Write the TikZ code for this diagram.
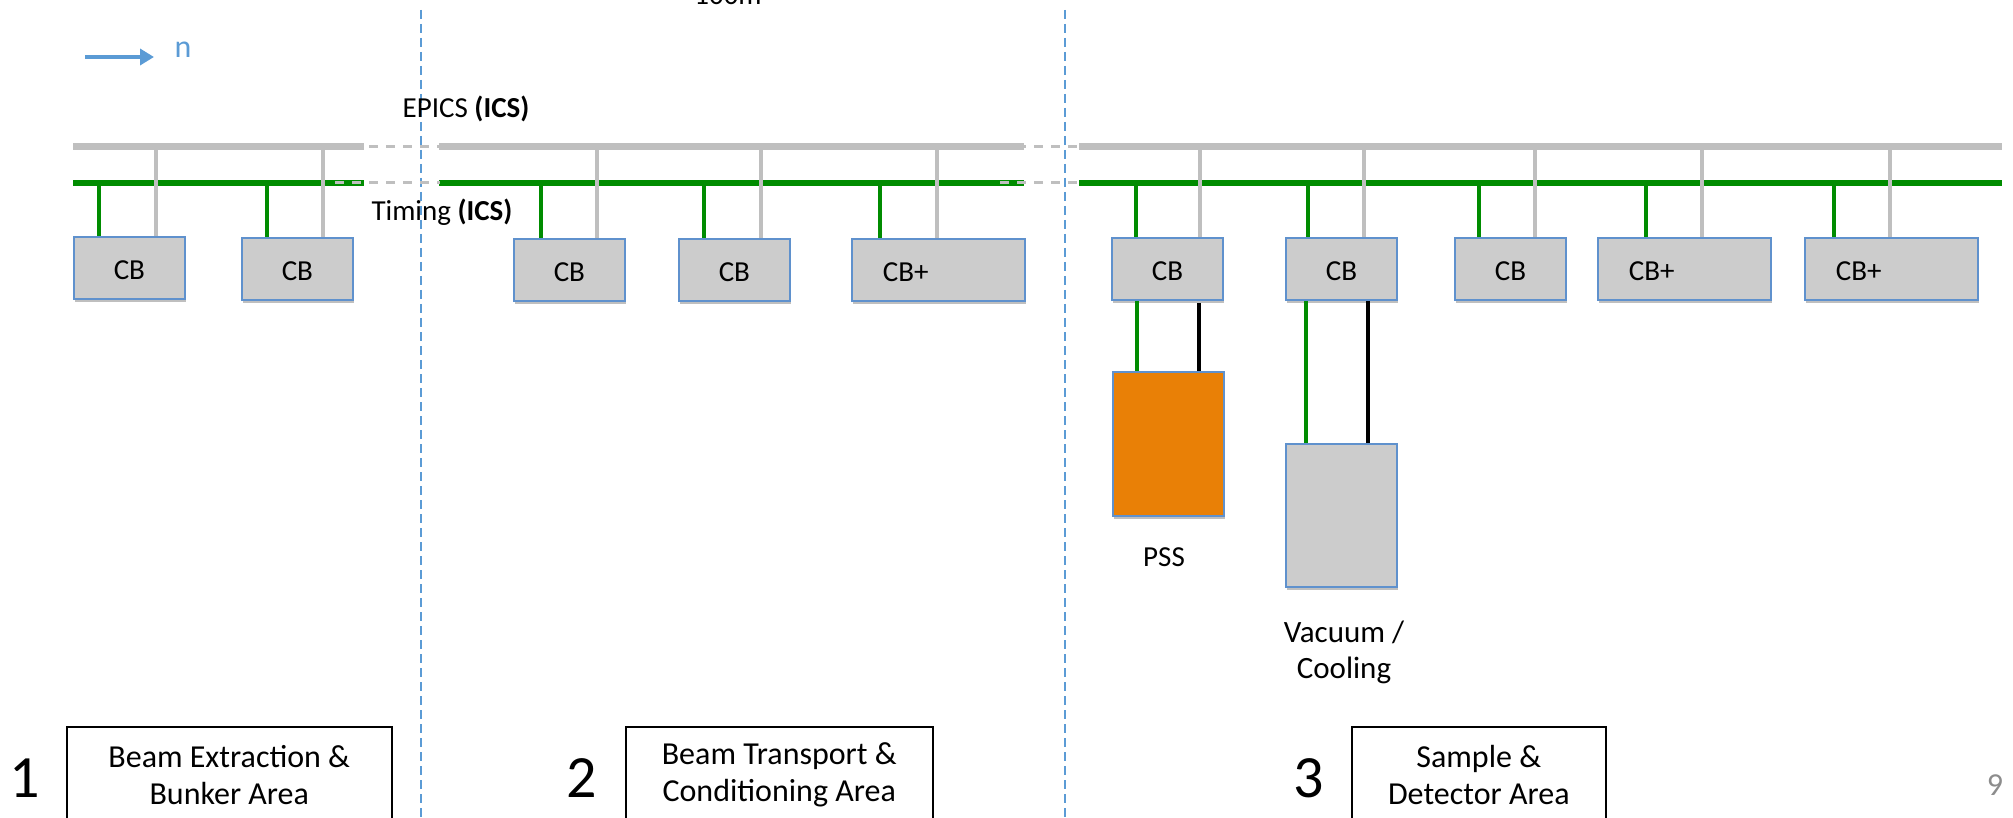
\documentclass[tikz,border=0pt]{standalone}
\usepackage{fontspec}
\setmainfont{Carlito}
\usetikzlibrary{shadows,arrows.meta}
\definecolor{busgreen}{RGB}{0,140,0}
\definecolor{busgray}{RGB}{191,191,191}
\definecolor{boxgray}{RGB}{204,204,204}
\definecolor{boxblue}{RGB}{95,145,205}
\definecolor{pssorange}{RGB}{233,128,6}
\definecolor{arrowblue}{RGB}{91,155,213}
\definecolor{pagegray}{RGB}{140,140,140}
\begin{document}
\begin{tikzpicture}[x=1pt,y=-1pt,
  txt/.style={font=\fontsize{29}{34}\selectfont},
  cbbox/.style={draw=boxblue, line width=1.8pt, fill=boxgray, minimum width=111pt,
    minimum height=62pt, inner sep=0pt, anchor=north west, txt, text height=23pt, text depth=0pt,
    drop shadow={shadow xshift=1.5pt, shadow yshift=-3pt, opacity=0.25, fill=black}},
  cbplus/.style={cbbox, minimum width=173pt, text width=111pt, inner xsep=31pt, align=left},
  ebusline/.style={busgray, line width=7pt},
  tbusline/.style={busgreen, line width=6pt},
  buslink/.style={busgray, line width=3pt, dash pattern=on 9pt off 8pt},
  gdrop/.style={busgreen, line width=4pt},
  edrop/.style={busgray, line width=4.5pt},
  kdrop/.style={black, line width=4pt},
  vdash/.style={arrowblue, line width=1.3pt, dash pattern=on 9pt off 5pt},
  areabox/.style={draw=black, line width=1.5pt, fill=white, minimum height=96pt,
    inner sep=0pt, anchor=north west, align=center, font=\fontsize{32}{37}\selectfont},
  bignum/.style={font=\fontsize{60}{60}\selectfont}
]
\useasboundingbox (0,0) rectangle (2013,818);

% top label (cut at the edge)
\node[txt, anchor=base] (dist) at (728,5) {100m};

% direction arrow
\coordinate (arrA) at (85,57);
\coordinate (arrB) at (154,57);
\draw[arrowblue, line width=4pt, -{Triangle[length=14pt,width=16pt]}] (arrA) -- (arrB);
\node[arrowblue, font=\fontsize{32}{36}\selectfont] (ndir) at (183,50) {n};

% area separators
\draw[vdash] (421,10) -- (421,818);
\draw[vdash] (1065,10) -- (1065,818);

% bus labels
\node[txt] (epics) at (466,109) {EPICS \textbf{(ICS)}};
\node[txt] (timing) at (442,212) {Timing \textbf{(ICS)}};

% EPICS bus
\draw[ebusline] (73,147) -- (364,147);
\draw[ebusline] (439,147) -- (1024,147);
\draw[ebusline] (1079,147) -- (2002,147);
% Timing bus
\draw[tbusline] (73,183) -- (364,183);
\draw[tbusline] (439,183) -- (1024,183);
\draw[tbusline] (1079,183) -- (2002,183);
% dashed links between segments
\draw[buslink] (335,147) -- (440,147);
\draw[buslink] (335,183) -- (440,183);
\draw[buslink] (1000,147) -- (1080,147);
\draw[buslink] (1000,183) -- (1080,183);

% controller boxes
\node[cbbox] (cb1) at (73,236) {CB};
\node[cbbox] (cb2) at (241,237) {CB};
\node[cbbox] (cb3) at (513,238) {CB};
\node[cbbox] (cb4) at (678,238) {CB};
\node[cbplus] (cb5) at (851,238) {CB+};
\node[cbbox] (cb6) at (1111,237) {CB};
\node[cbbox] (cb7) at (1285,237) {CB};
\node[cbbox] (cb8) at (1454,237) {CB};
\node[cbplus] (cb9) at (1597,237) {CB+};
\node[cbplus] (cb10) at (1804,237) {CB+};

% drops
\foreach \b/\g/\e in {cb1/99/156, cb2/267/323, cb3/541/597, cb4/704/761, cb5/880/937,
                     cb6/1136/1200, cb7/1308/1364, cb8/1479/1535, cb9/1646/1702, cb10/1834/1890}{
  \draw[gdrop] (\g,183) -- (\g,183 |- \b.north);
  \draw[edrop] (\e,145) -- (\e,145 |- \b.north);
}

% PSS and Vacuum boxes
\node[cbbox, fill=pssorange, minimum height=144pt] (pss) at (1112,371) {};
\node[cbbox, minimum height=143pt] (vac) at (1285,443) {};
\draw[gdrop] (1137,0 |- cb6.south) -- (1137,0 |- pss.north);
\draw[kdrop] (1199,303) -- (1199,0 |- pss.north);
\draw[gdrop] (1306,0 |- cb7.south) -- (1306,0 |- vac.north);
\draw[kdrop] (1368,0 |- cb7.south) -- (1368,0 |- vac.north);
\node[txt] (psslabel) at (1164,557) {PSS};
\node[align=center, font=\fontsize{31}{36}\selectfont] (vaclabel) at (1344,652) {Vacuum /\\Cooling};

% area boxes
\node[areabox, minimum width=325pt] (area1) at (66,726) {Beam Extraction \&\\Bunker Area};
\node[areabox, minimum width=307pt] (area2) at (625,726) {Beam Transport \&\\Conditioning Area};
\node[areabox, minimum width=254pt] (area3) at (1351,726) {Sample \&\\Detector Area};
\draw[black, line width=1.5pt] (area1.south west) -- ++(0,10);
\draw[black, line width=1.5pt] (area1.south east) -- ++(0,10);
\draw[black, line width=1.5pt] (area2.south west) -- ++(0,10);
\draw[black, line width=1.5pt] (area2.south east) -- ++(0,10);
\draw[black, line width=1.5pt] (area3.south west) -- ++(0,10);
\draw[black, line width=1.5pt] (area3.south east) -- ++(0,10);
\node[bignum] (n1) at (25,778) {1};
\node[bignum] (n2) at (582,778) {2};
\node[bignum] (n3) at (1309,778) {3};
\node[pagegray, font=\fontsize{32}{36}\selectfont] (page) at (1995,785) {9};
\end{tikzpicture}
\end{document}
